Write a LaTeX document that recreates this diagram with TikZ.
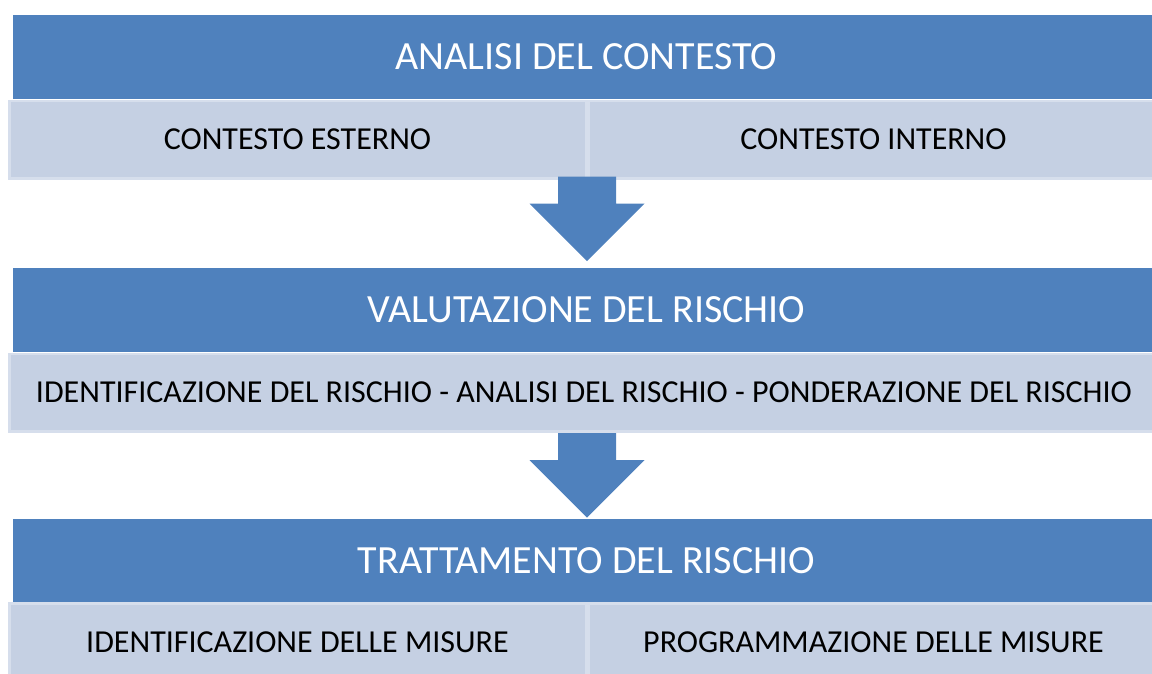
\documentclass[tikz,border=0pt]{standalone}
\usepackage{fontspec}
\setmainfont{Carlito}
\usetikzlibrary{shapes,arrows,positioning,calc}
\definecolor{hdblue}{RGB}{79,129,189}
\definecolor{cellfill}{RGB}{197,208,227}
\definecolor{cellline}{RGB}{214,222,236}
\tikzstyle{header} = [rectangle, fill=hdblue, text=white, minimum width=1147pt, minimum height=84pt, inner sep=0pt, font=\fontsize{40}{48}\selectfont]
\tikzstyle{cell} = [rectangle, fill=cellfill, draw=cellline, line width=2.5pt, minimum height=77.5pt, inner sep=0pt, font=\fontsize{32}{38}\selectfont]
\tikzstyle{bigarrow} = [fill=hdblue]

\begin{document}
\begin{tikzpicture}[x=1pt, y=-1pt]
    \useasboundingbox (0,0) rectangle (1152,673);
    \clip (0,0) rectangle (1152,673);

    % analisi del contesto
    \node[header] (ctx) at (586.5,56.5) {ANALISI DEL CONTESTO};
    \node[cell, minimum width=576.5pt] (ext) at (297.5,139.5) {CONTESTO ESTERNO};
    \node[cell, minimum width=570.5pt] (int) at (873.5,139.5) {CONTESTO INTERNO};

    % valutazione del rischio
    \node[header] (val) at (586.5,310) {VALUTAZIONE DEL RISCHIO};
    \node[cell, minimum width=1149.5pt] (steps) at (584,392.5) {IDENTIFICAZIONE DEL RISCHIO - ANALISI DEL RISCHIO - PONDERAZIONE DEL RISCHIO};

    % trattamento del rischio
    \node[header] (tratt) at (586.5,561) {TRATTAMENTO DEL RISCHIO};
    \node[cell, minimum width=576.5pt] (ident) at (297.5,642) {IDENTIFICAZIONE DELLE MISURE};
    \node[cell, minimum width=570.5pt] (prog) at (873.5,642) {PROGRAMMAZIONE DELLE MISURE};

    % frecce
    \coordinate (a1) at ($(ext.south east)+(0,-3)$);
    \coordinate (a2) at (587,433);
    \fill[bigarrow] (a1) ++(-29,0) -- ++(58,0) -- ++(0,27) -- ++(28.5,0) -- ++(-57.5,57.5) -- ++(-57.5,-57.5) -- ++(28.5,0) -- cycle;
    \fill[bigarrow] (a2) ++(-29,0) -- ++(58,0) -- ++(0,27) -- ++(28.5,0) -- ++(-57.5,57.5) -- ++(-57.5,-57.5) -- ++(28.5,0) -- cycle;
\end{tikzpicture}
\end{document}
